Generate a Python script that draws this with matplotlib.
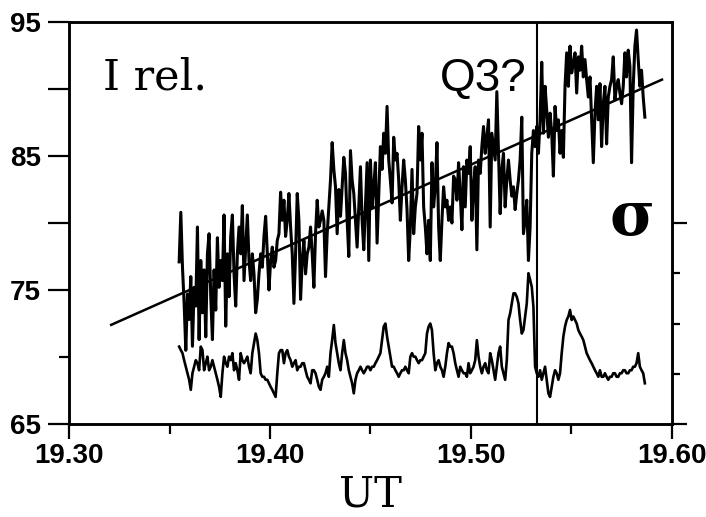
import numpy as np
import matplotlib
matplotlib.use("Agg")
import matplotlib.pyplot as plt
from matplotlib.ticker import FixedLocator

# --- data ---
t_start, t_end = 19.3548, 19.5865   # time span of both traces (UT, hours)

intensity = [
    77.1, 80.8, 76.7, 74.0, 70.5, 74.7, 72.8, 76.0, 70.8, 75.2, 73.8, 79.7, 71.3, 77.2, 73.3, 76.5,
    71.5, 77.7, 79.2, 74.5, 71.3, 76.5, 73.5, 78.9, 75.2, 77.2, 75.7, 80.6, 72.3, 77.7, 74.5, 79.0,
    80.6, 76.2, 73.8, 77.7, 79.7, 77.7, 81.3, 75.7, 78.2, 80.6, 77.2, 75.7, 77.7, 76.2, 73.3, 74.3,
    76.2, 77.7, 76.7, 79.0, 80.5, 77.7, 75.0, 77.2, 78.2, 76.7, 77.2, 78.7, 79.2, 82.3, 80.2, 81.7,
    79.0, 80.2, 82.2, 79.7, 77.7, 74.0, 77.7, 82.2, 80.2, 74.3, 77.2, 78.7, 76.2, 77.7, 78.2, 79.7,
    77.7, 75.2, 79.2, 81.7, 79.7, 80.2, 80.9, 80.2, 76.0, 79.2, 81.2, 83.2, 86.0, 84.0, 82.7, 79.2,
    82.5, 80.5, 82.7, 84.9, 83.7, 80.2, 77.5, 85.4, 83.2, 82.2, 80.2, 78.2, 81.2, 84.2, 80.2, 78.0,
    81.2, 84.5, 77.2, 84.7, 81.2, 82.7, 84.5, 78.5, 82.2, 85.7, 84.0, 86.7, 85.2, 88.7, 84.7, 83.2,
    81.5, 86.4, 84.7, 85.2, 83.2, 80.2, 82.7, 84.7, 83.2, 81.0, 77.2,
    79.7, 84.0, 79.2, 81.2, 82.2, 87.2, 84.7, 86.7, 81.2, 79.7, 77.7, 80.2, 77.2, 84.5, 81.2, 82.7,
    86.0, 79.7, 77.2, 80.2, 82.7, 81.2, 81.7, 80.2, 81.2, 80.0, 83.5, 83.2, 81.7, 84.5, 82.2, 79.5,
    84.2, 81.2, 84.7, 83.7, 85.7, 80.2, 82.7, 84.2, 78.0, 84.7, 83.7, 85.7, 87.2, 85.2, 86.4, 87.7,
    79.7, 86.7, 85.7, 84.7, 89.8, 85.2, 80.7, 84.0, 85.2, 81.2, 83.2, 84.7, 83.2, 82.0, 82.7, 81.0,
    82.2, 83.2, 84.7, 87.9, 79.2, 80.2, 81.7, 77.2, 79.7, 85.2, 86.9, 85.7, 87.2, 85.2, 87.7, 92.0,
    86.7, 90.2, 88.4, 86.4, 88.2, 86.7, 83.5, 88.7, 86.9, 87.7, 85.2, 86.9, 84.9, 90.2, 92.7, 90.2,
    93.2, 91.2, 91.9, 92.7, 89.7, 92.4, 91.4, 93.2, 90.9, 92.2, 90.7, 89.4, 90.9, 87.7, 84.5, 88.2,
    90.2, 87.7, 90.4, 85.7, 88.9, 90.2, 85.9, 89.4, 90.2, 90.7, 92.4, 89.2, 90.2, 90.7, 89.7, 88.9,
    90.2, 92.7, 90.9, 92.9, 91.7, 84.5, 90.2, 93.2, 94.4, 92.2, 90.2, 91.4, 89.4, 87.9,
]

sigma = [
    1.54, 1.47, 1.41, 1.27, 1.14, 1.01, 0.88, 0.68, 1.01, 1.14, 1.27, 1.21, 1.07, 1.54, 1.47, 1.07,
    1.21, 1.34, 1.07, 1.14, 1.27, 1.14, 1.01, 0.88, 0.74, 0.54, 1.01, 1.34, 1.21, 1.14, 1.34, 1.27,
    1.41, 1.07, 1.21, 1.07, 0.88, 1.41, 1.27, 1.21, 1.27, 1.34, 1.14, 1.01, 1.41, 1.61, 1.80, 1.67,
    1.41, 1.01, 0.94, 0.94, 0.88, 0.88, 0.81, 0.74, 0.68, 0.61, 0.54, 1.01, 1.41, 1.47, 1.47, 1.21,
    1.41, 1.47, 1.34, 1.27, 1.14, 1.21, 1.27, 1.07, 1.14, 1.14, 1.21, 1.21, 1.07, 0.94, 0.88, 0.81,
    1.07, 1.07, 1.01, 0.88, 0.74, 0.68, 0.88, 0.94, 1.01, 1.14, 0.94, 1.41, 1.67, 1.97, 1.61, 1.41,
    1.21, 1.07, 1.41, 1.67, 1.41, 1.27, 1.07, 0.94, 0.81, 0.61, 0.88, 1.01, 1.07, 1.14, 1.07, 1.01,
    1.07, 1.14, 1.14, 1.07, 1.14, 1.14, 1.21, 1.27, 1.34, 1.41, 1.67, 1.94, 2.00, 1.74, 1.54, 1.34,
    1.14, 1.14, 1.07, 1.01, 0.94, 1.01, 1.07, 1.07, 1.14, 1.07, 1.01,
    1.34, 1.41, 1.34, 1.34, 1.27, 1.21, 1.27, 1.27, 1.34, 1.41, 1.80, 1.94, 2.00, 1.87, 1.41, 1.07,
    1.21, 1.27, 1.14, 1.07, 0.94, 1.14, 1.41, 1.61, 1.54, 1.54, 1.41, 1.21, 1.07, 0.94, 1.14, 1.07,
    1.01, 1.01, 0.94, 1.21, 1.01, 1.07, 1.14, 1.27, 1.67, 1.34, 1.14, 1.01, 1.14, 1.21, 1.07, 1.01,
    1.41, 1.27, 1.07, 0.88, 1.14, 1.41, 1.54, 1.14, 1.01, 0.88, 1.27, 2.07, 2.20, 2.40, 2.60, 2.60,
    2.53, 2.40, 2.07, 1.80, 1.87, 2.14, 2.40, 3.00, 2.87, 2.73, 2.33, 1.14, 1.01, 0.94, 1.07, 0.88,
    1.01, 1.14, 0.88, 0.61, 0.54, 0.74, 0.94, 1.07, 1.01, 0.88, 1.01, 1.41, 1.74, 1.94, 2.07, 2.14,
    2.27, 2.07, 2.14, 2.07, 2.00, 1.87, 1.80, 1.74, 1.67, 1.54, 1.41, 1.34, 1.27, 1.21, 1.14, 1.07,
    1.01, 0.94, 1.07, 0.94, 0.94, 1.01, 0.94, 0.88, 0.94, 0.94, 1.01, 1.01, 0.94, 0.94, 1.01, 1.01,
    1.07, 1.07, 1.01, 1.01, 1.07, 1.07, 1.14, 1.14, 1.21, 1.41, 1.14, 1.07, 1.01, 0.81,
]

fit_t = [19.321, 19.595]
fit_i = [72.4, 90.7]
event_t = 19.533   # Q3? marker

t_int = np.linspace(t_start, t_end, len(intensity))
t_sig = np.linspace(t_start, t_end, len(sigma))

plt.rcParams['font.family'] = ['Liberation Sans', 'DejaVu Sans']

fig = plt.figure(figsize=(7.06, 5.17), dpi=100)
ax = fig.add_axes([69/706, 93/517, 603/706, 402/517])

ax.plot(t_int, intensity, color='black', lw=2.2)
ax.plot(fit_t, fit_i, color='black', lw=1.8)
ax.axvline(event_t, color='black', lw=1.5)

ax.set_xlim(19.30, 19.60)
ax.set_ylim(65, 95)
ax.xaxis.set_major_locator(FixedLocator([19.30, 19.40, 19.50, 19.60]))
ax.xaxis.set_minor_locator(FixedLocator([19.35, 19.45, 19.55]))
ax.set_xticklabels(['19.30', '19.40', '19.50', '19.60'])
ax.yaxis.set_major_locator(FixedLocator([65, 75, 80, 85, 90, 95]))
ax.yaxis.set_minor_locator(FixedLocator([70]))
ax.set_yticklabels(['65', '75', '', '85', '', '95'])
ax.tick_params(which='major', direction='out', length=15, width=1.6,
               labelsize=20, pad=5, top=False, right=False)
ax.tick_params(which='minor', direction='out', length=7, width=1.6, top=False, right=False)
ax.tick_params(axis='x', which='major', length=11, pad=3)
for lab in ax.get_xticklabels() + ax.get_yticklabels():
    lab.set_fontweight('bold')
for s in ax.spines.values():
    s.set_linewidth(1.8)

# sigma trace on its own (unlabelled) right-hand scale
ax2 = ax.twinx()
ax2.plot(t_sig, sigma, color='black', lw=1.9)
ax2.set_ylim(0, 8)
ax2.yaxis.set_major_locator(FixedLocator([0, 4]))
ax2.yaxis.set_minor_locator(FixedLocator([1, 2, 3]))
ax2.set_yticklabels(['', ''])
ax2.tick_params(which='major', direction='out', length=11, width=1.6)
ax2.tick_params(which='minor', direction='out', length=6, width=1.6)
for s in ax2.spines.values():
    s.set_linewidth(1.8)

ax.text(0.056, 0.831, 'I rel.', transform=ax.transAxes, fontsize=31,
        family='DejaVu Serif', ha='left', va='baseline')
ax.text(0.615, 0.828, 'Q3?', transform=ax.transAxes, fontsize=33,
        ha='left', va='baseline')
ax.text(0.933, 0.512, 'σ', transform=ax.transAxes, fontsize=44,
        family='DejaVu Serif', fontweight='bold', ha='center', va='center')
fig.text(0.524, 0.044, 'UT', fontsize=30, family='DejaVu Serif',
         ha='center', va='center')

fig.savefig('out.png', dpi=100)
